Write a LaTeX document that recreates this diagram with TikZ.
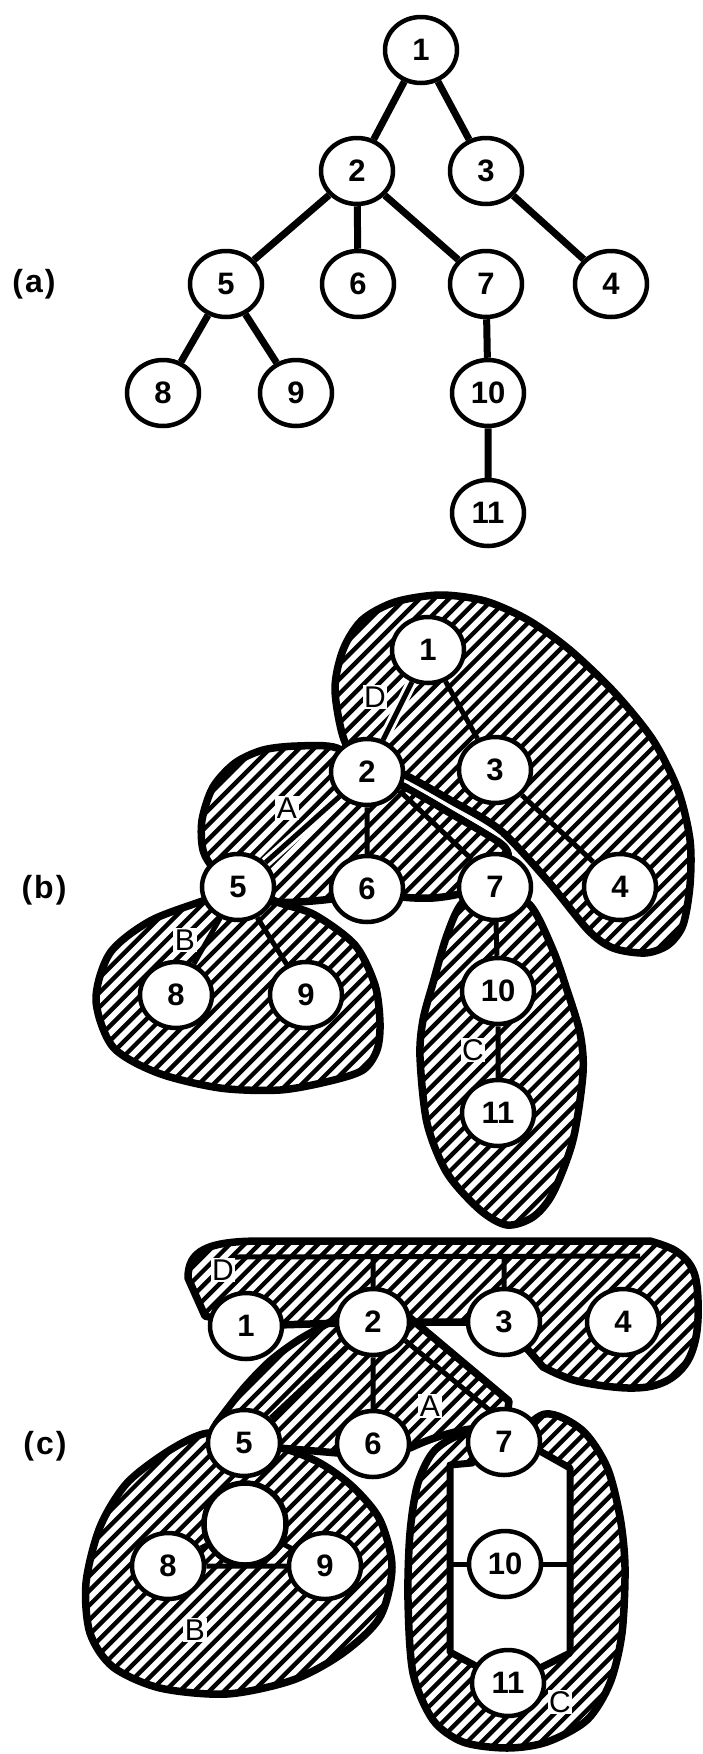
\documentclass[tikz,border=0pt]{standalone}
\usepackage{fontspec}
\setmainfont{Liberation Sans}
\usetikzlibrary{shapes.geometric}
\pgfdeclarelayer{bg}
\pgfsetlayers{bg,main}
\newcommand\hatchlines{\foreach \k in {-1800,-1785.3,...,720} {\draw[line width=4.4pt] (\k,1760)--++(1800,-1800);}}
\newcommand\hatchblob[1]{\begin{scope}\clip #1; \hatchlines \end{scope}\draw[blobline] #1;}
\begin{document}
\begin{tikzpicture}[x=1pt,y=-1pt,
  vtx/.style={ellipse,draw,line width=4.5pt,fill=white,minimum width=72pt,minimum height=66pt,inner sep=0pt,font=\fontsize{31}{31}\selectfont\bfseries},
  bigring/.style={circle,draw,line width=5.5pt,fill=white,minimum size=82pt,inner sep=0pt},
  blobline/.style={line width=7.5pt,line join=round},
  edg/.style={line width=5pt},
  aedg/.style={line width=7pt},
  lbl/.style={font=\fontsize{30}{30}\selectfont,fill=white,inner sep=1.5pt},
  part/.style={font=\fontsize{32}{32}\selectfont\bfseries}]
\useasboundingbox (0,0) rectangle (702,1754);

% ---------------- (a) ----------------
\node[part] (la) at (34,284) {(\hspace{2pt}a\hspace{2pt})};
\node[vtx] (a1) at (421,50) {1};
\node[vtx] (a2) at (357,171) {2};
\node[vtx] (a3) at (486,171) {3};
\node[vtx] (a5) at (226,284) {5};
\node[vtx] (a6) at (358,284) {6};
\node[vtx] (a7) at (486,284) {7};
\node[vtx] (a4) at (611,284) {4};
\node[vtx] (a8) at (163,393) {8};
\node[vtx] (a9) at (296,393) {9};
\node[vtx] (a10) at (488,393) {10};
\node[vtx] (a11) at (488,513) {11};
\begin{pgfonlayer}{bg}
\draw[aedg] (a1)--(a2) (a1)--(a3) (a2)--(a5) (a2)--(a6) (a2)--(a7) (a3)--(a4)
  (a5)--(a8) (a5)--(a9) (a7)--(a10) (a10)--(a11);
\end{pgfonlayer}

% ---------------- (b) ----------------
\node[part] (lb) at (44,890) {(\hspace{2pt}b\hspace{2pt})};
\node[vtx] (b1) at (428,650) {1};
\node[vtx] (b2) at (367,772) {2};
\node[vtx] (b3) at (495,770) {3};
\node[vtx] (b4) at (620,887) {4};
\node[vtx] (b5) at (238,887) {5};
\node[vtx] (b6) at (367,889) {6};
\node[vtx] (b7) at (495,887) {7};
\node[vtx] (b8) at (176,995) {8};
\node[vtx] (b9) at (306,995) {9};
\node[vtx] (b10) at (498,991) {10};
\node[vtx] (b11) at (498,1113) {11};
\node[lbl] (bD) at (375,697) {D};
\node[lbl] (bA) at (287,808) {A};
\node[lbl] (bB) at (185,940) {B};
\node[lbl] (bC) at (473,1050) {C};
\begin{pgfonlayer}{bg}
\hatchblob{plot[smooth cycle] coordinates {(345,742) (335,690) (343,650) (362,620) (395,602) (440,595) (485,601) (528,620) (570,650) (615,693) (653,740) (678,790) (690,840) (690,885) (683,925) (668,945) (645,953) (613,948) (588,930) (547,880) (500,830) (450,800) (405,775) (367,760)}}
\hatchblob{plot[smooth cycle] coordinates {(337,748) (297,746) (263,750) (235,763) (213,787) (202,820) (203,850) (215,870) (238,887) (273,902) (332,899) (367,890) (402,897) (433,898) (463,893) (495,880) (508,858) (500,843) (450,813) (405,787) (367,772)}}
\hatchblob{plot[smooth cycle] coordinates {(238,887) (205,900) (150,921) (110,953) (96,1000) (113,1047) (158,1073) (220,1088) (280,1090) (330,1081) (363,1070) (377,1050) (380,1023) (375,985) (355,945) (315,915) (280,903)}}
\hatchblob{plot[smooth cycle] coordinates {(495,887) (463,902) (447,935) (433,983) (423,1020) (420,1057) (427,1123) (447,1173) (480,1210) (507,1225) (533,1217) (553,1193) (573,1140) (583,1073) (580,1033) (567,990) (553,950) (530,905)}}
\draw[white,line width=2.5pt] plot[smooth] coordinates {(410,784) (450,806.5) (500,836.5)};
\draw[white,line width=11pt] (b1)--(b2) (b2)--(b5);
\draw[edg] (b1)--(b2) (b1)--(b3) (b3)--(b4) (b2)--(b5) (b2)--(b6) (b2.-30)--(b7.130)
  (b5)--(b8) (b5)--(b9) (b7)--(b10) (b10)--(b11);
\end{pgfonlayer}

% ---------------- (c) ----------------
\node[part] (lc) at (45,1446) {(\hspace{2pt}c\hspace{2pt})};
\node[vtx] (c1) at (246,1326) {1};
\node[vtx] (c2) at (373,1322) {2};
\node[vtx] (c3) at (504,1322) {3};
\node[vtx] (c4) at (623,1322) {4};
\node[vtx] (c5) at (244,1443) {5};
\node[vtx] (c6) at (373,1444) {6};
\node[vtx] (c7) at (504,1442) {7};
\node[vtx] (c8) at (168,1566) {8};
\node[vtx] (c9) at (325,1566) {9};
\node[vtx] (c10) at (505,1564) {10};
\node[vtx] (c11) at (508,1683) {11};
\node[bigring] (cc) at (245,1524) {};
\node[lbl] (cD) at (223,1270) {D};
\node[lbl] (cA) at (430,1406) {A};
\node[lbl] (cB) at (195,1630) {B};
\node[lbl] (cC) at (560,1702) {C};
\coordinate (hl) at (450,1564);
\coordinate (hr) at (570,1564);
\coordinate (tl) at (232,1257);
\coordinate (tr) at (640,1256);
\coordinate (t2) at (373,1257);
\coordinate (t3) at (504,1257);
\begin{pgfonlayer}{bg}
% D
\hatchblob{plot[smooth, tension=0.6] coordinates {(543,1367) (577,1381) (628,1388) (662,1383) (685,1365) (696,1337) (698,1300) (693,1270) (676,1251) (650,1241)}
  -- (262,1241) .. controls (206,1241) and (188,1251) .. (188,1278)
  -- (205,1316) -- (c1.center) -- (c2.center) -- (c3.center) -- cycle}
% A
\hatchblob{(c2.center) -- (409,1317) -- (509,1401) -- (c7.center) -- (470,1429)
  .. controls (445,1433) and (425,1441) .. (410,1448) -- (c6.center) -- (338,1453)
  -- (279,1448) -- (c5.center)
  -- plot[smooth] coordinates {(216,1424) (243,1389) (270,1361) (300,1339) (336,1319)} -- cycle}
% B
\hatchblob{plot[smooth cycle] coordinates {(244,1443) (208,1433) (170,1450) (127,1483) (100,1527) (86,1583) (90,1633) (113,1667) (160,1688) (227,1694) (293,1680) (343,1653) (380,1617) (392,1567) (380,1520) (353,1487) (320,1463) (285,1449)}}
% C
\hatchblob{plot[smooth cycle] coordinates {(504,1442) (467,1433) (435,1450) (418,1483) (410,1533) (408,1600) (413,1673) (433,1720) (463,1742) (507,1748) (547,1742) (587,1720) (610,1683) (622,1633) (625,1567) (620,1517) (607,1467) (582,1430) (545,1414)}}
\path[fill=white,draw,line width=7pt,line join=round] (c7.center) -- (472,1463) -- (450,1465)
  -- (450,1652) -- (476,1666) -- (c11.center) -- (540,1668) -- (570,1653) -- (570,1468)
  -- (538,1450) -- cycle;
% edges
\draw[edg] (hl)--(c10) (c10)--(hr);
\draw[edg] (tl)--(tr) (t2)--(c2) (t3)--(c3);
\draw[edg] (c1)--(c2) (c2)--(c3) (c2)--(c5) (c2)--(c6) (c2.-30)--(c7.115)
  (c8)--(c9) (c8)--(cc) (c9)--(cc);
\end{pgfonlayer}
\end{tikzpicture}
\end{document}
